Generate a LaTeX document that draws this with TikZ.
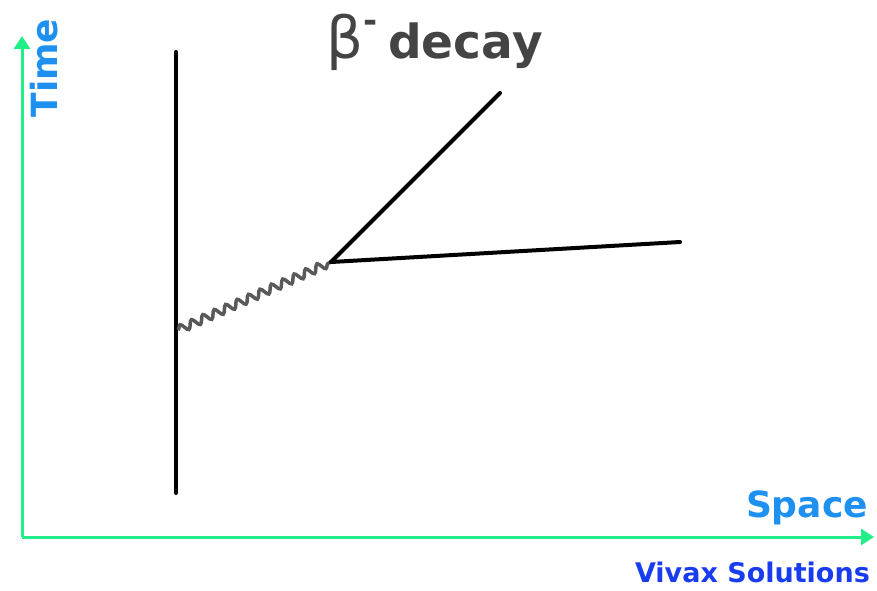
\documentclass[tikz,border=0pt]{standalone}
\usepackage{fontspec}
\setmainfont{DejaVu Sans}
\usetikzlibrary{arrows.meta,decorations.pathmorphing}
\definecolor{axisgreen}{HTML}{22EE88}
\definecolor{labelblue}{HTML}{1E90F0}
\definecolor{vivaxblue}{HTML}{1A3CF0}
\definecolor{titlegray}{HTML}{444444}
\tikzset{
  axis/.style={draw=axisgreen, line width=3pt, -{Triangle[length=13pt,width=16pt]}},
  particle/.style={draw=black, line width=4pt, line cap=round},
  boson/.style={draw=gray!70!black, line width=3.5pt, decorate, decoration={snake, amplitude=4pt, segment length=12.5pt}},
  lbl/.style={font=\bfseries, inner sep=0pt},
}
\begin{document}
\begin{tikzpicture}[x=1pt,y=-1pt]
\useasboundingbox (0,0) rectangle (877,590);
\coordinate (O) at (22,537);
\coordinate (T) at (22,36);
\coordinate (S) at (874,537);
\draw[axis] (O) -- (T);
\draw[axis] (O) -- (S);
\node[lbl, text=labelblue, rotate=90, font=\bfseries\fontsize{36}{40}\selectfont] (time) at (44,68) {Time};
\node[lbl, text=labelblue, anchor=east, font=\bfseries\fontsize{36}{40}\selectfont] (space) at (868,508) {Space};
\node[lbl, text=vivaxblue, anchor=east, font=\bfseries\fontsize{27}{30}\selectfont] (vivax) at (870,572) {Vivax Solutions};
\coordinate (a) at (176,52);
\coordinate (b) at (176,493);
\coordinate (w) at (178,330);
\coordinate (v) at (331,262);
\coordinate (e) at (500,93);
\coordinate (n) at (680,242);
\draw[particle] (a) -- (b);
\draw[boson] (w) -- (v);
\draw[particle] (v) -- (e);
\draw[particle] (v) -- (n);
\node[lbl, text=titlegray, anchor=base west, font=\mdseries] (title) at (326,58) {{\fontsize{58}{60}\selectfont β}\raisebox{26pt}{\bfseries\fontsize{34}{34}\selectfont -}\hspace{11pt}{\bfseries\fontsize{47}{50}\selectfont decay}};
\end{tikzpicture}
\end{document}
